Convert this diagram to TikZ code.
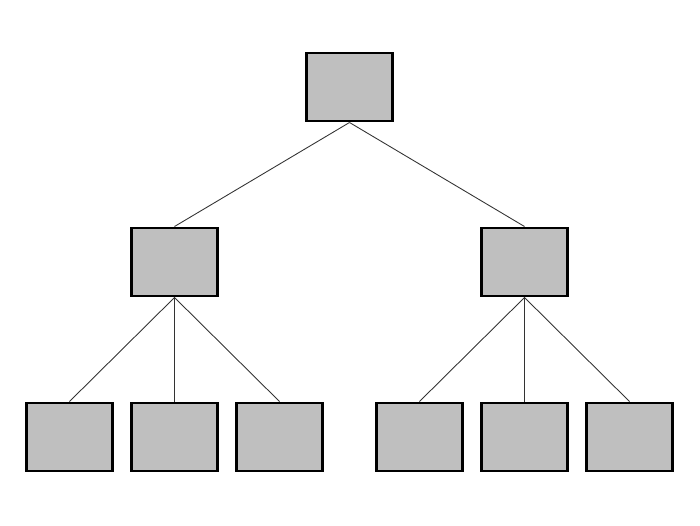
\documentclass[tikz,border=0pt]{standalone}
\usetikzlibrary{positioning}
\tikzset{
	treebox/.style={draw=black, fill=gray!50, line width=1.7pt,
		minimum width=1.72cm, minimum height=1.36cm, inner sep=0pt},
	treeedge/.style={draw=black!80, line width=0.5pt}
}
\begin{document}
\begin{tikzpicture}
\useasboundingbox (0,0) rectangle (14,10.5);

\node[treebox] (root) at (6.99,8.76) {};

\node[treebox] (l) at (3.49,5.26) {};
\node[treebox] (r) at (10.49,5.26) {};

\node[treebox] (l1) at (1.39,1.76) {};
\node[treebox] (l2) at (3.49,1.76) {};
\node[treebox] (l3) at (5.59,1.76) {};
\node[treebox] (r1) at (8.39,1.76) {};
\node[treebox] (r2) at (10.49,1.76) {};
\node[treebox] (r3) at (12.59,1.76) {};

\foreach \c in {l,r} \draw[treeedge] (root.south) -- (\c.north);
\foreach \c in {l1,l2,l3} \draw[treeedge] (l.south) -- (\c.north);
\foreach \c in {r1,r2,r3} \draw[treeedge] (r.south) -- (\c.north);
\end{tikzpicture}
\end{document}
